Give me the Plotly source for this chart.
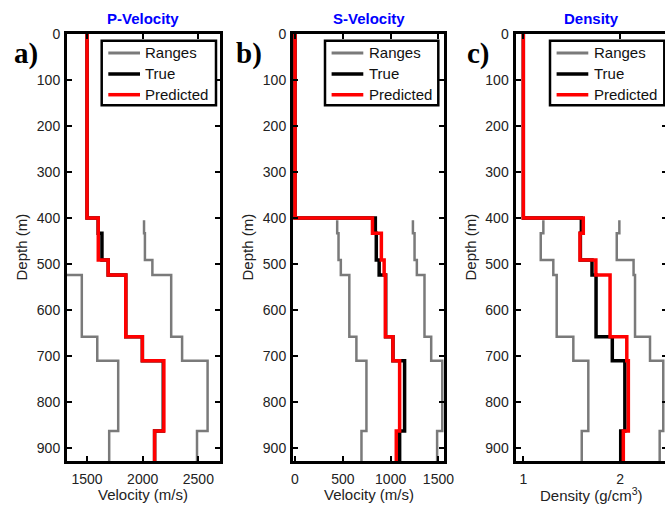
import plotly.graph_objects as go

# ---------------- data ----------------
depth_tops = [0, 400, 433, 491, 524, 658, 710, 863]
range_tops = [405, 433, 491, 524, 658, 710, 863]
depth_bottom = 928

vp_true = [1500, 1600, 1634, 1690, 1848, 1997, 2185, 2107]
vp_pred = [1500, 1601, 1601, 1690, 1848, 1997, 2190, 2107]
vp_low = [1250, 1260, 1290, 1453, 1592, 1780, 1699]
vp_high = [2012, 2020, 2087, 2256, 2354, 2583, 2488]

vs_true = [0, 840, 850, 880, 948, 1024, 1146, 1094]
vs_pred = [0, 810, 903, 932, 945, 1024, 1094, 1059]
vs_low = [441, 455, 479, 568, 642, 747, 695]
vs_high = [1233, 1250, 1274, 1354, 1424, 1540, 1486]

rho_true = [1.0, 1.60, 1.59, 1.71, 1.752, 1.92, 2.05, 2.007]
rho_pred = [1.0, 1.62, 1.586, 1.75, 1.897, 2.07, 2.086, 2.034]
rho_low = [1.207, 1.18, 1.31, 1.345, 1.517, 1.672, 1.604]
rho_high = [1.993, 1.966, 2.14, 2.155, 2.31, 2.447, 2.41]

series_names = ["Ranges", "True", "Predicted"]
panel_titles = ["P-Velocity", "S-Velocity", "Density"]
panel_letters = ["a)", "b)", "c)"]
x_titles = ["Velocity (m/s)", "Velocity (m/s)", "Density (g/cm<sup>3</sup>)"]
depth_ticks = [0, 100, 200, 300, 400, 500, 600, 700, 800, 900]

W, H = 665, 514
FONT = "Arial, Liberation Sans, Helvetica, sans-serif"
GRAY = "#7a7a7a"
RED = "#ff0000"
series_colors = [GRAY, "black", RED]
series_widths = [3, 3.5, 3.5]


def px(v):
    return v / W


def py(v):
    return 1 - v / H


def step(vals, tops):
    return list(vals) + [vals[-1]], list(tops) + [depth_bottom]


panels = [
    (vp_low, vp_high, vp_true, vp_pred),
    (vs_low, vs_high, vs_true, vs_pred),
    (rho_low, rho_high, rho_true, rho_pred),
]
x_domains = [[67 / W, 219.5 / W], [293 / W, 444 / W], [515.5 / W, 1.0]]
x_ranges = [[1320, 2690], [-21, 1558], [0.919, 2.465]]
x_dticks = [500, 500, 1]
legend_box = [(101.7, 216), (325, 438.3), (550, 664.3)]
y_dom = [1 - 461 / H, 1 - 34 / H]

fig = go.Figure()
for i, (lo, hi, tr, pr) in enumerate(panels):
    sfx = "" if i == 0 else str(i + 1)
    xa, ya = "x" + sfx, "y" + sfx
    x, y = step(lo, range_tops)
    fig.add_trace(go.Scatter(x=x, y=y, mode="lines", line=dict(color=GRAY, width=2.5, shape="vh"),
                             name="Ranges", xaxis=xa, yaxis=ya, showlegend=False))
    x, y = step(hi, range_tops)
    fig.add_trace(go.Scatter(x=x, y=y, mode="lines", line=dict(color=GRAY, width=2.5, shape="vh"),
                             name="Ranges", xaxis=xa, yaxis=ya, showlegend=False))
    x, y = step(tr, depth_tops)
    fig.add_trace(go.Scatter(x=x, y=y, mode="lines", line=dict(color="black", width=3.5, shape="vh"),
                             name="True", xaxis=xa, yaxis=ya, showlegend=False))
    x, y = step(pr, depth_tops)
    fig.add_trace(go.Scatter(x=x, y=y, mode="lines", line=dict(color=RED, width=3.5, shape="vh"),
                             name="Predicted", xaxis=xa, yaxis=ya, showlegend=False))

# invisible trace to carry the right-hand tick axis of panel c
x, y = step(rho_pred, depth_tops)
fig.add_trace(go.Scatter(x=x, y=y, mode="lines", line=dict(width=0), opacity=0,
                         xaxis="x3", yaxis="y4", showlegend=False, hoverinfo="skip"))

axis_common = dict(showline=True, linecolor="black", linewidth=3, ticks="inside",
                   ticklen=5, tickwidth=2, tickcolor="black", showgrid=False, zeroline=False,
                   tickfont=dict(family=FONT, size=14, color="#222222"))

layout = dict(width=W, height=H, margin=dict(l=0, r=0, t=0, b=0, autoexpand=False),
              paper_bgcolor="white", plot_bgcolor="white", font=dict(family=FONT),
              showlegend=False)

for i in range(3):
    sfx = "" if i == 0 else str(i + 1)
    layout["xaxis" + sfx] = dict(axis_common, domain=x_domains[i], range=x_ranges[i],
                                 dtick=x_dticks[i], tick0=0, mirror="ticks",
                                 anchor="y" + sfx, ticklabelstandoff=3)
    layout["yaxis" + sfx] = dict(axis_common, domain=y_dom, range=[depth_bottom, 0],
                                 tickvals=depth_ticks, mirror=("ticks" if i < 2 else False),
                                 anchor="x" + sfx, ticklabelstandoff=1)

layout["yaxis4"] = dict(overlaying="y3", anchor="x3", side="right", range=[depth_bottom, 0],
                        tickvals=depth_ticks, ticks="inside", ticklen=3, tickwidth=2,
                        tickcolor="black", showticklabels=False, showline=False,
                        showgrid=False, zeroline=False, domain=y_dom)

annotations = []
shapes = []
centers = [143.25, 368.5, 591.5]
ylab_x = [21, 247, 470]
letter_x = [26, 249, 478]
leg_top, leg_bot = 40.7, 105.3
row_y = [53, 74, 94.7]
for i in range(3):
    annotations.append(dict(text="<b>%s</b>" % panel_titles[i], x=px(centers[i]), y=py(18.5),
                            xref="paper", yref="paper", showarrow=False, xanchor="center",
                            yanchor="middle", font=dict(family=FONT, size=15, color="#0000ff")))
    annotations.append(dict(text=x_titles[i], x=px(centers[i]), y=py(494),
                            xref="paper", yref="paper", showarrow=False, xanchor="center",
                            yanchor="middle", font=dict(family=FONT, size=15, color="#222222")))
    annotations.append(dict(text="Depth (m)", x=px(ylab_x[i]), y=py(247.5), textangle=-90,
                            xref="paper", yref="paper", showarrow=False, xanchor="center",
                            yanchor="middle", font=dict(family=FONT, size=15, color="#222222")))
    annotations.append(dict(text="<b>%s</b>" % panel_letters[i], x=px(letter_x[i]), y=py(54),
                            xref="paper", yref="paper", showarrow=False, xanchor="center",
                            yanchor="middle",
                            font=dict(family="Liberation Serif, Times New Roman, serif",
                                      size=29, color="black")))
    # legend box
    bl, br = legend_box[i]
    shapes.append(dict(type="rect", xref="paper", yref="paper", x0=px(bl), x1=px(br),
                       y0=py(leg_bot), y1=py(leg_top), fillcolor="white",
                       line=dict(color="black", width=2.5), layer="above"))
    for k in range(3):
        shapes.append(dict(type="line", xref="paper", yref="paper", x0=px(bl + 6.6),
                           x1=px(bl + 38.3), y0=py(row_y[k]), y1=py(row_y[k]),
                           line=dict(color=series_colors[k], width=series_widths[k]),
                           layer="above"))
        annotations.append(dict(text=series_names[k], x=px(bl + 41.6), y=py(row_y[k]),
                                xref="paper", yref="paper", showarrow=False, xanchor="left",
                                yanchor="middle",
                                font=dict(family=FONT, size=15, color="#111111")))
layout["annotations"] = annotations
layout["shapes"] = shapes

fig.update_layout(**layout)
fig.write_html("out.html")
